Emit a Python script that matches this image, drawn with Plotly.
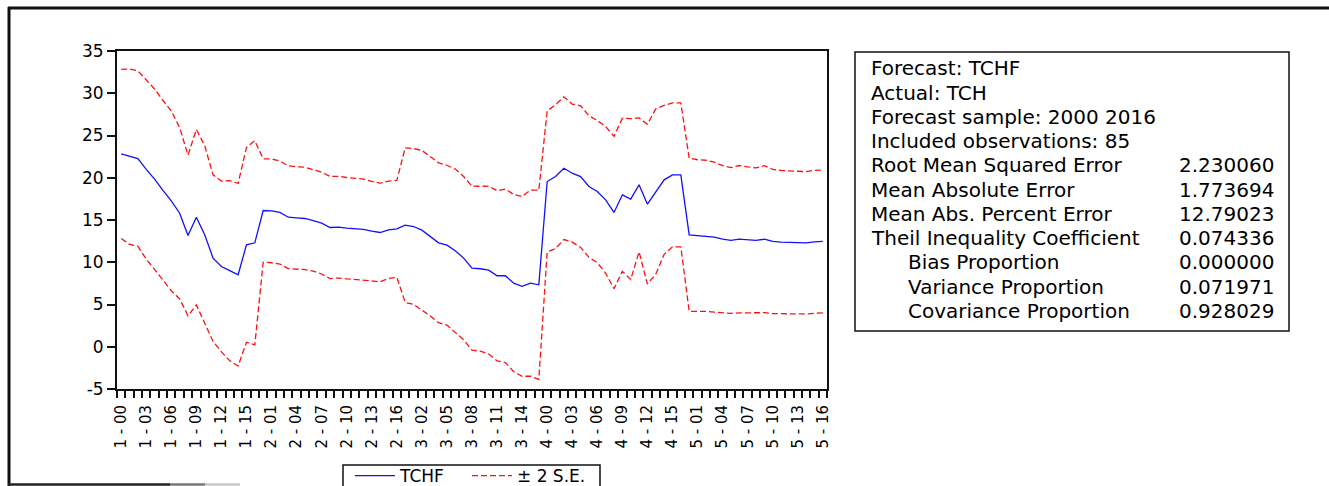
import plotly.graph_objects as go

# ---- data -------------------------------------------------------------
# Panel (cross-section) ids and forecast years 2000..2016 -> "p - yy" labels
panels = [1, 2, 3, 4, 5]
years = list(range(0, 17))
obs_labels = [f"{p} - {y:02d}" for p in panels for y in years]

# Static forecast TCHF
tchf = [
    22.82, 22.50, 22.27, 21.00, 19.83, 18.50, 17.27, 15.80, 13.17, 15.33,
    13.25, 10.49, 9.50, 9.00, 8.52, 12.06, 12.30,
    16.12, 16.08, 15.89, 15.33, 15.26, 15.18, 14.94, 14.63, 14.11, 14.15,
    14.03, 13.96, 13.88, 13.68, 13.52, 13.84, 13.96,
    14.39, 14.23, 13.80, 13.05, 12.30, 12.02, 11.36, 10.49, 9.30, 9.23,
    9.07, 8.40, 8.40, 7.53, 7.14, 7.53, 7.33,
    19.55, 20.14, 21.13, 20.54, 20.14, 18.96, 18.37, 17.38, 15.89, 17.98,
    17.47, 19.16, 16.87, 18.37, 19.75, 20.34, 20.34,
    13.25, 13.17, 13.13, 12.97, 12.73, 12.58, 12.73, 12.65, 12.58, 12.73,
    12.46, 12.38, 12.34, 12.30, 12.30, 12.42, 12.46,
]

# Forecast standard errors
se = [
    5.00, 5.19, 5.19, 5.32, 5.34, 5.32, 5.32, 5.07, 4.75, 5.19,
    5.27, 4.93, 5.05, 5.33, 5.40, 5.76, 6.04,
    3.06, 3.07, 3.05, 3.04, 3.02, 3.03, 3.00, 3.01, 3.02, 3.01,
    3.00, 3.00, 2.98, 2.94, 2.92, 2.88, 2.87,
    4.57, 4.61, 4.72, 4.70, 4.73, 4.73, 4.83, 4.83, 4.85, 4.88,
    4.97, 5.03, 5.13, 5.24, 5.32, 5.50, 5.60,
    4.17, 4.26, 4.22, 4.08, 4.19, 4.19, 4.21, 4.34, 4.51, 4.53,
    4.76, 3.96, 4.73, 4.89, 4.41, 4.26, 4.26,
    4.53, 4.48, 4.47, 4.44, 4.35, 4.31, 4.36, 4.32, 4.29, 4.35,
    4.27, 4.24, 4.23, 4.21, 4.21, 4.23, 4.22,
]

# Forecast evaluation summary
header_lines = [
    "Forecast: TCHF",
    "Actual: TCH",
    "Forecast sample: 2000 2016",
    "Included observations: 85",
]
stat_names = [
    "Root Mean Squared Error",
    "Mean Absolute Error",
    "Mean Abs. Percent Error",
    "Theil Inequality Coefficient",
    "Bias Proportion",
    "Variance Proportion",
    "Covariance Proportion",
]
stat_values = ["2.230060", "1.773694", "12.79023", "0.074336",
               "0.000000", "0.071971", "0.928029"]
stat_indent = [False, False, False, False, True, True, True]

y_ticks = [-5, 0, 5, 10, 15, 20, 25, 30, 35]

# ---- geometry helpers (pixel -> paper) --------------------------------
FIG_W, FIG_H = 1329, 486
L, R, T, B = 117, 827, 51, 389
PW, PH = R - L, B - T


def px(xp):
    return (xp - L) / PW


def py(yp):
    return (B - yp) / PH


FONT = "DejaVu Sans"
STAT_SIZE = 20

x = list(range(len(tchf)))
upper = [f + 2 * s for f, s in zip(tchf, se)]
lower = [f - 2 * s for f, s in zip(tchf, se)]

fig = go.Figure()
fig.add_trace(go.Scatter(
    x=x, y=tchf, mode="lines", name="TCHF",
    line=dict(color="#1010ff", width=1.3),
))
fig.add_trace(go.Scatter(
    x=x, y=upper, mode="lines", name="\u00b1 2 S.E.", legendgroup="se",
    line=dict(color="#ff1010", width=1.3, dash="6px,3px"),
))
fig.add_trace(go.Scatter(
    x=x, y=lower, mode="lines", name="\u00b1 2 S.E.", legendgroup="se",
    showlegend=False,
    line=dict(color="#ff1010", width=1.3, dash="6px,3px"),
))

# ---- summary box ------------------------------------------------------
annotations = []
line_y0, line_step = 68.3, 24.25
row = 0
for text in header_lines:
    annotations.append(dict(
        x=px(869), y=py(line_y0 + row * line_step), xref="paper", yref="paper",
        text=text, showarrow=False, xanchor="left", yanchor="middle",
        font=dict(family=FONT, size=STAT_SIZE, color="black"),
    ))
    row += 1
for name, val, ind in zip(stat_names, stat_values, stat_indent):
    yy = py(line_y0 + row * line_step)
    annotations.append(dict(
        x=px(906 if ind else 869), y=yy, xref="paper", yref="paper",
        text=name, showarrow=False, xanchor="left", yanchor="middle",
        font=dict(family=FONT, size=STAT_SIZE, color="black"),
    ))
    annotations.append(dict(
        x=px(1276), y=yy, xref="paper", yref="paper",
        text=val, showarrow=False, xanchor="right", yanchor="middle",
        font=dict(family=FONT, size=STAT_SIZE, color="black"),
    ))
    row += 1

shapes = [
    # summary box
    dict(type="rect", xref="paper", yref="paper",
         x0=px(855), x1=px(1289), y0=py(331), y1=py(52),
         line=dict(color="#111", width=1.5), fillcolor="rgba(0,0,0,0)"),
    # legend frame
    dict(type="rect", xref="paper", yref="paper",
         x0=px(343), x1=px(600), y0=py(492), y1=py(465),
         line=dict(color="#111", width=1.5), fillcolor="rgba(0,0,0,0)"),
    # outer frame: top and left edges
    dict(type="line", xref="paper", yref="paper",
         x0=px(8), x1=px(1329), y0=py(8), y1=py(8),
         line=dict(color="#111", width=3)),
    dict(type="line", xref="paper", yref="paper",
         x0=px(9), x1=px(9), y0=py(7), y1=py(486),
         line=dict(color="#111", width=3)),
    # outer frame: bottom edge, fading out
    dict(type="line", xref="paper", yref="paper",
         x0=px(8), x1=px(170), y0=py(484.5), y1=py(484.5),
         line=dict(color="#222", width=2.5)),
    dict(type="line", xref="paper", yref="paper",
         x0=px(170), x1=px(205), y0=py(484.5), y1=py(484.5),
         line=dict(color="#777", width=2.5)),
    dict(type="line", xref="paper", yref="paper",
         x0=px(205), x1=px(240), y0=py(484.5), y1=py(484.5),
         line=dict(color="#c8c8c8", width=2.5)),
]

fig.update_layout(
    width=FIG_W, height=FIG_H,
    margin=dict(l=L, r=FIG_W - R, t=T, b=FIG_H - B, pad=0, autoexpand=False),
    paper_bgcolor="white", plot_bgcolor="white",
    font=dict(family=FONT, color="black"),
    showlegend=True,
    legend=dict(
        orientation="h", x=px(350), y=py(476), xanchor="left", yanchor="middle",
        borderwidth=0, bgcolor="rgba(0,0,0,0)",
        font=dict(family=FONT, size=17, color="black"),
        itemwidth=40, entrywidth=62, tracegroupgap=0,
    ),
    xaxis=dict(
        range=[-0.5, len(tchf) - 0.5], automargin=False,
        tickmode="array", tickvals=x[::3], ticktext=obs_labels[::3],
        tickangle=-90, ticks="", ticklen=7, ticklabelstandoff=8,
        tickfont=dict(family=FONT, size=15, color="black"),
        showline=True, mirror=True, linecolor="#111", linewidth=2,
        showgrid=False, zeroline=False,
        minor=dict(tickmode="array", tickvals=[i - 0.5 for i in range(len(tchf) + 1)],
                   ticks="outside", ticklen=7, tickwidth=1.5, tickcolor="#111",
                   showgrid=False),
    ),
    yaxis=dict(
        range=[y_ticks[0], y_ticks[-1]], automargin=False,
        tickmode="array", tickvals=y_ticks, ticktext=[str(v) for v in y_ticks],
        ticks="outside", ticklen=8, tickwidth=1.5, tickcolor="#111",
        tickfont=dict(family=FONT, size=17, color="black"),
        showline=True, mirror=True, linecolor="#111", linewidth=2,
        showgrid=False, zeroline=False,
    ),
    annotations=annotations,
    shapes=shapes,
)

fig.write_html("out.html")
